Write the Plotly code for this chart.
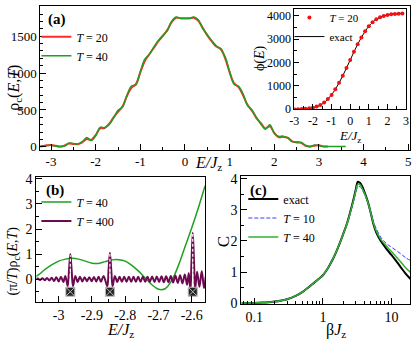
import plotly.graph_objects as go

# ---- panel (a): rho_c(E,T) ----
E_a = [-3.3, -3.2, -3.1, -3.0, -2.9, -2.8, -2.7, -2.6, -2.5, -2.4, -2.3, -2.2, -2.1, -2.0,
       -1.9, -1.8, -1.7, -1.6, -1.5, -1.4, -1.3, -1.2, -1.1, -1.0, -0.9, -0.8, -0.7, -0.6,
       -0.5, -0.4, -0.3, -0.2, -0.1, 0.0, 0.1, 0.2, 0.3, 0.4, 0.5, 0.6, 0.7, 0.8, 0.9, 1.0,
       1.1, 1.2, 1.3, 1.4, 1.5, 1.6, 1.7, 1.8, 1.9, 2.0, 2.1, 2.2, 2.3, 2.4, 2.5, 2.6, 2.7,
       2.8, 2.9, 3.0, 3.1, 3.2, 3.3, 3.4, 3.5, 3.6]
rho_T40 = [5, 5, 15, 20, 10, 0, 10, 50, 45, 40, 70, 125, 85, 150,
           265, 260, 300, 390, 495, 540, 700, 825, 840, 1020, 1190, 1250, 1350, 1440,
           1510, 1570, 1700, 1760, 1740, 1745, 1740, 1760, 1720, 1600, 1520, 1440, 1370, 1320, 1220, 1020,
           850, 820, 720, 560, 500, 400, 310, 240, 300, 180, 140, 145, 120, 70, 65, 60, 20,
           0, 25, 15, 5, 5, 5, 5, 5, 5]
rho_T20 = [10, 10, 20, 25, 15, 5, 15, 45, 40, 35, 60, 105, 95, 160,
           250, 255, 310, 400, 475, 545, 690, 800, 850, 1010, 1165, 1255, 1340, 1430,
           1500, 1580, 1690, 1750, 1745, 1740, 1745, 1750, 1710, 1610, 1510, 1430, 1360, 1330, 1200, 1010,
           860, 810, 700, 570, 490, 390, 320, 250, 280, 190, 130, 135, 125, 75, 60, 55, 15,
           5, 15, 20, 5, 5]

# inset: phi(E)
E_in = [-3.0, -2.8, -2.6, -2.4, -2.2, -2.0, -1.8, -1.6, -1.4, -1.2, -1.0, -0.8, -0.6, -0.4, -0.2,
        0.0, 0.2, 0.4, 0.6, 0.8, 1.0, 1.2, 1.4, 1.6, 1.8, 2.0, 2.2, 2.4, 2.6, 2.8]
phi_T20 = [5, 5, 10, 20, 40, 60, 115, 180, 285, 435, 615, 855, 1130, 1430, 1770,
           2110, 2460, 2785, 3075, 3340, 3560, 3725, 3850, 3940, 3995, 4040, 4070, 4085, 4095, 4100]
phi_exact = [0, 3, 8, 18, 36, 62, 110, 178, 283, 432, 618, 852, 1128, 1432, 1768,
             2110, 2455, 2785, 3078, 3338, 3558, 3727, 3852, 3938, 3996, 4038, 4068, 4086, 4096, 4100]

# ---- panel (b) ----
E_b40 = [-3.07, -3.06, -3.04, -3.02, -3.00, -2.98, -2.96, -2.94, -2.92, -2.90, -2.88, -2.86, -2.84,
         -2.82, -2.80, -2.78, -2.76, -2.74, -2.72, -2.70, -2.68, -2.66, -2.64, -2.62, -2.60, -2.58, -2.56]
rb_T40 = [0.10, 0.18, 0.40, 0.58, 0.72, 0.80, 0.83, 0.80, 0.72, 0.64, 0.63, 0.70, 0.77,
          0.78, 0.72, 0.55, 0.32, 0.05, -0.22, -0.40, -0.38, -0.05, 0.55, 1.30, 2.05, 2.85, 3.72]

E_b400 = [-3.070, -3.063, -3.056, -3.049, -3.042, -3.035, -3.028, -3.021, -3.014, -3.007, -3.000,
          -2.993, -2.986, -2.980, -2.973, -2.969, -2.965, -2.961, -2.957, -2.950, -2.943, -2.936,
          -2.929, -2.922, -2.915, -2.908, -2.901, -2.894, -2.887, -2.880, -2.873, -2.865, -2.854,
          -2.850, -2.846, -2.842, -2.838, -2.831, -2.824, -2.817, -2.810, -2.803, -2.796, -2.789,
          -2.782, -2.775, -2.768, -2.761, -2.754, -2.747, -2.740, -2.733, -2.726, -2.719, -2.712,
          -2.705, -2.698, -2.691, -2.684, -2.677, -2.670, -2.663, -2.656, -2.649, -2.642, -2.635,
          -2.628, -2.621, -2.614, -2.609, -2.604, -2.601, -2.597, -2.593, -2.590, -2.584, -2.577,
          -2.570, -2.563, -2.558]
rb_T400 = [0.00, 0.03, -0.03, 0.04, -0.04, 0.05, -0.05, 0.06, -0.07, 0.08, -0.09,
           0.10, -0.11, 0.13, -0.28, 0.35, 1.00, 0.35, -0.28, 0.13, -0.11, 0.10,
           -0.09, 0.08, -0.08, 0.08, -0.08, 0.09, -0.09, 0.10, -0.10, 0.13, -0.28,
           0.38, 1.05, 0.38, -0.28, 0.13, -0.11, 0.10, -0.10, 0.10, -0.10, 0.10,
           -0.10, 0.10, -0.10, 0.10, -0.10, 0.10, -0.10, 0.10, -0.10, 0.11, -0.11,
           0.11, -0.11, 0.12, -0.12, 0.12, -0.12, 0.13, -0.13, 0.14, -0.15, 0.16,
           -0.17, 0.19, -0.22, 0.25, -0.45, 0.60, 1.85, 0.60, -0.45, 0.30, -0.30,
           0.32, -0.35, 0.10]

peak_E = [-2.965, -2.846, -2.597]
peak_h = [0.95, 1.0, 1.8]
level_y = -0.5

# ---- panel (c): specific heat ----
betaJ = [0.065, 0.08, 0.1, 0.13, 0.16, 0.2, 0.25, 0.3, 0.4, 0.5, 0.6, 0.7, 0.85, 1, 1.2, 1.4,
         1.6, 1.8, 2, 2.25, 2.5, 2.75, 3, 3.25, 3.5, 3.75, 4, 4.5, 5, 5.5, 6, 7, 8, 9, 10,
         12, 14, 16, 19]
C_exact = [0.005, 0.008, 0.012, 0.022, 0.035, 0.055, 0.09, 0.13, 0.24, 0.36, 0.49, 0.61, 0.76, 0.9,
           1.15, 1.42, 1.7, 1.98, 2.25, 2.56, 2.92, 3.27, 3.62, 3.9, 3.86, 3.75, 3.6, 3.28, 2.9,
           2.52, 2.28, 2.0, 1.82, 1.67, 1.55, 1.33, 1.13, 0.96, 0.78]
C_T10 = [0.005, 0.008, 0.012, 0.022, 0.035, 0.055, 0.09, 0.13, 0.24, 0.36, 0.49, 0.61, 0.76, 0.9,
         1.15, 1.42, 1.7, 1.98, 2.24, 2.54, 2.88, 3.2, 3.52, 3.74, 3.74, 3.64, 3.52, 3.25, 2.92,
         2.6, 2.4, 2.12, 1.97, 1.87, 1.8, 1.68, 1.57, 1.47, 1.37]
C_T40 = [0.005, 0.008, 0.012, 0.022, 0.035, 0.055, 0.09, 0.13, 0.24, 0.36, 0.49, 0.61, 0.76, 0.9,
         1.15, 1.42, 1.7, 1.98, 2.25, 2.55, 2.9, 3.24, 3.58, 3.82, 3.8, 3.68, 3.56, 3.26, 2.9,
         2.55, 2.32, 2.05, 1.9, 1.77, 1.66, 1.47, 1.3, 1.15, 0.99]

# tick labels (hyphen minus like the original)
xa_ticks = [-3, -2, -1, 0, 1, 2, 3, 4, 5]
xa_text = ["-3", "-2", "-1", "0", "1", "2", "3", "4", "5"]
xin_ticks = [-3, -2, -1, 0, 1, 2, 3]
xin_text = ["-3", "-2", "-1", "0", "1", "2", "3"]
xb_ticks = [-3, -2.9, -2.8, -2.7, -2.6]
xb_text = ["-3", "-2.9", "-2.8", "-2.7", "-2.6"]
xc_ticks = [0.1, 1, 10]
xc_text = ["0.1", "1", "10"]
xc_minor = [0.07, 0.08, 0.09, 0.2, 0.3, 0.4, 0.5, 0.6, 0.7, 0.8, 0.9,
            2, 3, 4, 5, 6, 7, 8, 9]

RED = "#ff2a2a"
GREEN = "#1fa01f"
PURPLE = "#6b0a4e"
BLUE = "#3b3bff"
SERIF = "Liberation Serif"
W, H = 415, 345

fig = go.Figure()
fig.add_trace(go.Scatter(x=E_a, y=rho_T20, mode="lines", line=dict(color=RED, width=2, shape="spline"),
                         name="<i>T</i> = 20", xaxis="x", yaxis="y", legend="legend"))
fig.add_trace(go.Scatter(x=E_a, y=rho_T40, mode="lines", line=dict(color=GREEN, width=1.5, shape="spline"),
                         name="<i>T</i> = 40", xaxis="x", yaxis="y", legend="legend"))

fig.add_trace(go.Scatter(x=E_in, y=phi_exact, mode="lines", line=dict(color="black", width=1, shape="spline"),
                         name="exact", xaxis="x2", yaxis="y2", legend="legend2"))
fig.add_trace(go.Scatter(x=E_in, y=phi_T20, mode="markers", marker=dict(color="#ee1111", size=4),
                         name="<i>T</i> = 20", xaxis="x2", yaxis="y2", legend="legend2"))

fig.add_trace(go.Scatter(x=E_b40, y=rb_T40, mode="lines", line=dict(color=GREEN, width=1.5, shape="spline"),
                         name="<i>T</i> = 40", xaxis="x3", yaxis="y3", legend="legend3"))
fig.add_trace(go.Scatter(x=E_b400, y=rb_T400, mode="lines", line=dict(color=PURPLE, width=2, shape="spline"),
                         name="<i>T</i> = 400", xaxis="x3", yaxis="y3", legend="legend3"))
for e, h in zip(peak_E, peak_h):
    fig.add_trace(go.Scatter(x=[e, e], y=[level_y, h], mode="lines",
                             line=dict(color="white", width=1.2, dash="3px,2px"),
                             showlegend=False, xaxis="x3", yaxis="y3", hoverinfo="skip"))
fig.add_trace(go.Scatter(x=peak_E, y=[level_y] * len(peak_E), mode="markers",
                         marker=dict(symbol="square-x", size=9, color="#222222",
                                     line=dict(color="#bbbbbb", width=1)),
                         showlegend=False, xaxis="x3", yaxis="y3"))

fig.add_trace(go.Scatter(x=betaJ, y=C_exact, mode="lines", line=dict(color="black", width=2, shape="spline"),
                         name="exact", xaxis="x4", yaxis="y4", legend="legend4"))
fig.add_trace(go.Scatter(x=betaJ, y=C_T10, mode="lines",
                         line=dict(color=BLUE, width=1, dash="4px,2px", shape="spline"),
                         name="<i>T</i> = 10", xaxis="x4", yaxis="y4", legend="legend4"))
fig.add_trace(go.Scatter(x=betaJ, y=C_T40, mode="lines", line=dict(color="#33b033", width=1.5, shape="spline"),
                         name="<i>T</i> = 40", xaxis="x4", yaxis="y4", legend="legend4"))


def ax(size, **kw):
    d = dict(showline=True, linecolor="black", linewidth=1, mirror=True, ticks="inside",
             ticklen=6, tickwidth=1, tickcolor="black", showgrid=False, zeroline=False,
             tickfont=dict(family=SERIF, size=size, color="black"))
    d.update(kw)
    return d


def px(x0, x1):
    return [x0 / W, x1 / W]


def py(top, bottom):
    return [1 - bottom / H, 1 - top / H]


minor = lambda d, t0=0: dict(ticks="inside", ticklen=3, tickcolor="black", tickmode="linear", tick0=t0, dtick=d)


def leg(x, top, size=12, **kw):
    d = dict(x=x / W, y=1 - top / H, xanchor="left", yanchor="top", bgcolor="rgba(0,0,0,0)",
             font=dict(family=SERIF, size=size), itemwidth=30, tracegroupgap=0)
    d.update(kw)
    return d


fig.update_layout(
    width=W, height=H, margin=dict(l=0, r=0, t=0, b=0), autosize=False,
    paper_bgcolor="white", plot_bgcolor="white",
    font=dict(family=SERIF, color="black"),
    xaxis=ax(13, domain=px(36, 413), range=[-3.24, 5.04], tickmode="array", tickvals=xa_ticks,
             ticktext=xa_text, minor=minor(0.5), anchor="y"),
    yaxis=ax(13, domain=py(1, 150), range=[-40, 1910], tickmode="array", tickvals=[0, 500, 1000, 1500],
             minor=minor(100), anchor="x"),
    xaxis2=ax(12, domain=px(295, 409), range=[-3, 3], tickmode="array", tickvals=xin_ticks,
              ticktext=xin_text, minor=minor(0.5), ticklen=5, anchor="y2"),
    yaxis2=ax(12, domain=py(4, 108), range=[0, 4300], tickmode="array", tickvals=[0, 1000, 2000, 3000, 4000],
              minor=minor(500), ticklen=5, anchor="x2"),
    xaxis3=ax(14, domain=px(32, 204), range=[-3.067, -2.56], tickmode="array", tickvals=xb_ticks,
              ticktext=xb_text, minor=minor(0.05), anchor="y3"),
    yaxis3=ax(14, domain=py(178, 308), range=[-0.92, 4.08], tickmode="array", tickvals=[0, 1, 2, 3, 4],
              minor=minor(0.5), anchor="x3"),
    xaxis4=ax(14, type="log", domain=px(241, 413), range=[-1.19, 1.272], tickmode="array",
              tickvals=xc_ticks, ticktext=xc_text,
              minor=dict(ticks="inside", ticklen=3, tickcolor="black", tickmode="array", tickvals=xc_minor),
              anchor="y4"),
    yaxis4=ax(14, domain=py(177, 310), range=[-0.03, 4.09], tickmode="array", tickvals=[0, 1, 2, 3, 4],
              minor=minor(0.5), anchor="x4"),
    legend=leg(32, 18),
    legend2=leg(290, -2, 11, traceorder="reversed"),
    legend3=leg(32, 189),
    legend4=leg(243, 186),
)


def note(text, x, y, size=16, angle=0, bold=False):
    if bold:
        text = "<b>" + text + "</b>"
    fig.add_annotation(text=text, x=x / W, y=1 - y / H, xref="paper", yref="paper", showarrow=False,
                       xanchor="center", yanchor="middle", textangle=angle,
                       font=dict(family=SERIF, size=size, color="black"))


note("(a)", 53, 15, 15, bold=True)
note("(b)", 51, 192, 15, bold=True)
note("(c)", 258, 192, 15, bold=True)
note("ρ<sub>c</sub>(<i>E,T</i>)", 9, 86, 16, angle=-90)
note("<i>E/J</i><sub>z</sub>", 207, 164, 16)
note("ϕ(<i>E</i>)", 260, 55, 14, angle=-90)
note("<i>E/J</i><sub>z</sub>", 352, 136, 13)
note("(π/<i>T</i>)ρ<sub>c</sub>(<i>E,T</i>)", 9, 265, 14, angle=-90)
note("<i>E/J</i><sub>z</sub>", 118, 337, 16)
note("C", 223, 245, 17, angle=-90)
note("β<i>J</i><sub>z</sub>", 337, 337, 16)

# the page body has an 8px default margin; drop it so the figure fills the window
fig.write_html("out.html", config={"displayModeBar": False},
               post_script="document.body.style.margin='0';document.body.style.overflow='hidden';")
